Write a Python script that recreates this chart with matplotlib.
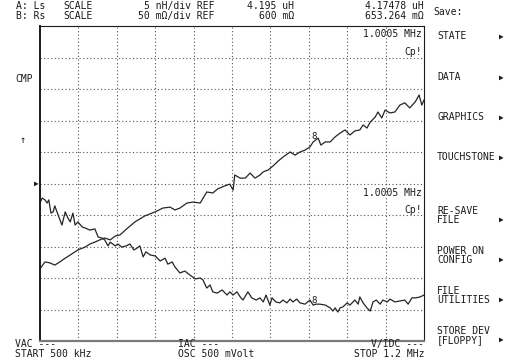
import numpy as np
import matplotlib
matplotlib.use("Agg")
import matplotlib.pyplot as plt

# --- sweep settings -------------------------------------------------------
start_khz = 500.0
stop_khz = 1200.0
n_div = 10
marker_khz = 1000.5

# --- trace A: Ls (screen divisions from bottom) ---------------------------
ls_freq = [500, 509, 518, 527, 536, 546, 555, 569, 582, 591, 600, 609, 618,
           628, 637, 646, 660, 673, 691, 710, 724, 737, 746, 755, 768, 779,
           792, 804, 815, 824, 832, 841, 846, 852, 855, 865, 874, 883, 892,
           901, 907, 916, 925, 934, 943, 956, 965, 974, 983, 992, 998, 1007,
           1012, 1020, 1029, 1038, 1047, 1056, 1065, 1074, 1083, 1089, 1096,
           1102, 1111, 1116, 1123, 1129, 1138, 1147, 1156, 1165, 1174, 1184,
           1191, 1196, 1200]
ls_div = [2.29, 2.51, 2.48, 2.41, 2.51, 2.63, 2.73, 2.89, 2.98, 3.08, 3.14,
          3.21, 3.27, 3.21, 3.33, 3.37, 3.59, 3.78, 3.97, 4.10, 4.22, 4.25,
          4.16, 4.22, 4.38, 4.41, 4.38, 4.73, 4.70, 4.83, 4.89, 4.95, 4.98,
          4.79, 5.27, 5.17, 5.17, 5.33, 5.17, 5.27, 5.37, 5.43, 5.56, 5.71,
          5.84, 6.00, 5.90, 6.00, 6.06, 6.16, 6.32, 6.44, 6.22, 6.32, 6.32,
          6.48, 6.60, 6.70, 6.54, 6.67, 6.70, 6.86, 6.76, 6.95, 7.11, 7.27,
          7.08, 7.33, 7.24, 7.27, 7.49, 7.56, 7.40, 7.59, 7.81, 7.49, 7.65]

# --- trace B: Rs (screen divisions from bottom) ---------------------------
rs_freq = [500, 504, 509, 513, 516, 520, 524, 527, 533, 540, 546, 551, 555,
           560, 564, 569, 577, 582, 591, 600, 606, 613, 618, 624, 628, 637,
           642, 649, 657, 664, 671, 677, 682, 688, 693, 701, 710, 719, 728,
           733, 741, 746, 755, 764, 773, 783, 792, 797, 804, 810, 815, 823,
           832, 841, 846, 852, 859, 865, 870, 879, 886, 894, 901, 907, 912,
           919, 923, 930, 937, 943, 950, 956, 961, 968, 974, 983, 992, 998,
           1003, 1010, 1020, 1029, 1034, 1038, 1043, 1047, 1052, 1060, 1065,
           1074, 1080, 1083, 1089, 1096, 1102, 1107, 1113, 1120, 1125, 1133,
           1138, 1147, 1156, 1165, 1171, 1178, 1185, 1193, 1200]
rs_div = [4.38, 4.54, 4.48, 4.38, 4.48, 4.06, 4.10, 4.29, 4.00, 3.68, 4.10,
          3.90, 3.78, 4.06, 3.68, 3.78, 3.62, 3.59, 3.52, 3.56, 3.30, 3.27,
          3.21, 3.02, 3.14, 3.02, 3.08, 2.98, 3.02, 3.08, 2.89, 2.95, 3.02,
          2.67, 2.83, 2.73, 2.70, 2.54, 2.63, 2.44, 2.51, 2.35, 2.16, 2.22,
          2.10, 1.97, 2.00, 1.94, 1.68, 1.78, 1.56, 1.52, 1.62, 1.46, 1.56,
          1.46, 1.56, 1.40, 1.30, 1.56, 1.37, 1.30, 1.37, 1.24, 1.46, 1.14,
          1.37, 1.24, 1.21, 1.30, 1.21, 1.33, 1.24, 1.33, 1.21, 1.17, 1.30,
          1.14, 1.17, 1.17, 1.14, 1.05, 0.95, 1.05, 0.92, 1.05, 1.08, 1.21,
          1.14, 1.30, 1.17, 1.40, 1.21, 1.05, 0.95, 1.24, 1.30, 1.17, 1.30,
          1.24, 1.33, 1.24, 1.27, 1.30, 1.17, 1.37, 1.37, 1.40, 1.46]

# --- screen text ------------------------------------------------------------
menu_items = [["STATE"], ["DATA"], ["GRAPHICS"], ["TOUCHSTONE"],
              ["RE-SAVE", "FILE"], ["POWER ON", "CONFIG"],
              ["FILE", "UTILITIES"], ["STORE DEV", "[FLOPPY]"]]
marker_freq_label = "1.0005 MHz"

W, H = 505, 364
fig = plt.figure(figsize=(W / 100, H / 100), dpi=100)
fig.patch.set_facecolor("white")

mono = "DejaVu Sans Mono"
fs = 7.0
ls_mult = 0.88
ink = "#1a1a1a"


def px(x, y):
    return x / W, 1 - y / H


def label(x, y, s, ha="left", va="center", size=fs, **kw):
    fx, fy = px(x, y)
    fig.text(fx, fy, s, ha=ha, va=va, family=mono, fontsize=size,
             color=ink, linespacing=ls_mult, multialignment=ha, **kw)


# plot area
x0, x1, y0, y1 = 40, 424, 26, 341
ax = fig.add_axes([x0 / W, 1 - y1 / H, (x1 - x0) / W, (y1 - y0) / H])
ax.set_xlim(start_khz, stop_khz)
ax.set_ylim(0, n_div)
step = (stop_khz - start_khz) / n_div
ax.set_xticks(np.arange(start_khz + step, stop_khz, step))
ax.set_yticks(np.arange(1, n_div))
ax.tick_params(length=0, labelbottom=False, labelleft=False)
ax.grid(True, color="#555555", linestyle=(0, (1, 2.2)), linewidth=0.8)
for side in ["top", "right"]:
    ax.spines[side].set_color(ink)
    ax.spines[side].set_linewidth(0.8)
ax.spines["left"].set_color(ink)
ax.spines["left"].set_linewidth(1.4)
ax.spines["bottom"].set_color("#7a7a7a")
ax.spines["bottom"].set_linewidth(1.6)

ax.plot(ls_freq, ls_div, color="#252525", linewidth=0.9)
ax.plot(rs_freq, rs_div, color="#252525", linewidth=0.9)

# markers placed on each trace at the marker frequency
for fr, vals in ((ls_freq, ls_div), (rs_freq, rs_div)):
    mv = np.interp(marker_khz, fr, vals)
    ax.text(marker_khz, mv, "8", ha="center", va="bottom", family=mono,
            fontsize=6.5, color=ink)

# marker readouts inside the grid
label(422, 34, marker_freq_label, ha="right")
label(422, 52, "Cp!", ha="right")
label(422, 193, marker_freq_label, ha="right")
label(422, 210, "Cp!", ha="right")

# header (two rows per column block)
label(16, 11, "A: Ls\nB: Rs")
label(63, 11, "SCALE\nSCALE")
label(214, 11, "5 nH/div REF\n50 m\u03a9/div REF", ha="right")
label(294, 11, "4.195 uH\n600 m\u03a9", ha="right")
label(424, 11, "4.17478 uH\n653.264 m\u03a9", ha="right")
label(433, 12, "Save:")

# left annotations
label(15, 79, "CMP")
label(23, 140, "\u2191", ha="center", size=7.5)
label(36, 183, "\u25b6", ha="center", size=5.5)

# footer
label(15, 349, "VAC ---\nSTART 500 kHz")
label(178, 349, "IAC ---\nOSC 500 mVolt")
label(424, 349, "V/IDC ---\nSTOP 1.2 MHz", ha="right")

# softkey menu
menu_y = [36, 77, 117, 157, 211, 251, 291, 331]
line_gap = 8.5
for lines, yy in zip(menu_items, menu_y):
    n = len(lines)
    label(437, yy + (n - 1) * line_gap / 2, "\n".join(lines))
    label(501, yy + (n - 1) * line_gap, "\u25b6", ha="center", size=5.5)

fig.savefig("out.png", dpi=100, facecolor="white")
